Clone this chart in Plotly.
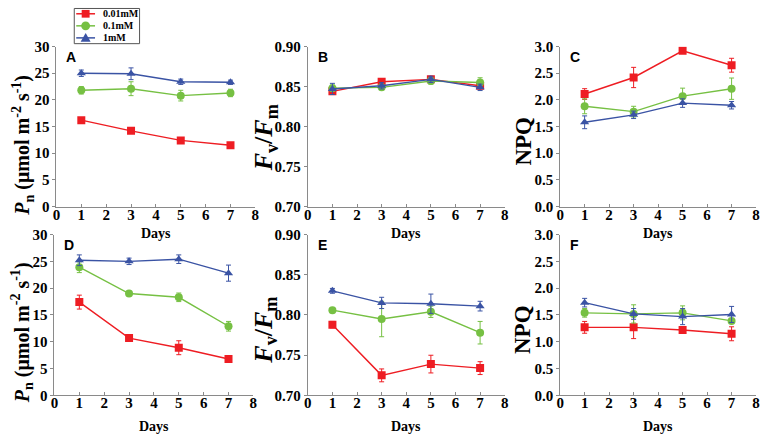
import plotly.graph_objects as go

# sampling days and treatment names
days = [1, 3, 5, 7]
labels = ["0.01mM", "0.1mM", "1mM"]
x_ticks = [0, 1, 2, 3, 4, 5, 6, 7, 8]

# A: Pn, top row
a_red = [16.2, 14.2, 12.4, 11.5]
a_red_sd = [0.3, 0.3, 0.5, 0.4]
a_green = [21.8, 22.1, 20.8, 21.3]
a_green_sd = [0.7, 1.3, 1.0, 0.7]
a_blue = [25.0, 24.9, 23.4, 23.3]
a_blue_sd = [0.6, 1.1, 0.5, 0.4]

# B: Fv/Fm, top row
b_red = [0.844, 0.856, 0.859, 0.851]
b_red_sd = [0.003, 0.004, 0.003, 0.004]
b_green = [0.848, 0.849, 0.857, 0.855]
b_green_sd = [0.004, 0.003, 0.004, 0.006]
b_blue = [0.847, 0.851, 0.859, 0.849]
b_blue_sd = [0.007, 0.004, 0.004, 0.004]

# C: NPQ, top row
c_red = [2.11, 2.42, 2.92, 2.65]
c_red_sd = [0.10, 0.19, 0.05, 0.13]
c_green = [1.88, 1.78, 2.07, 2.21]
c_green_sd = [0.14, 0.10, 0.15, 0.20]
c_blue = [1.58, 1.72, 1.94, 1.90]
c_blue_sd = [0.12, 0.07, 0.08, 0.07]

# D: Pn, bottom row
d_red = [17.4, 10.7, 8.9, 6.8]
d_red_sd = [1.3, 0.5, 1.3, 0.3]
d_green = [23.9, 19.0, 18.3, 12.9]
d_green_sd = [1.0, 0.4, 0.8, 0.9]
d_blue = [25.2, 25.0, 25.4, 22.8]
d_blue_sd = [1.0, 0.6, 0.8, 1.5]

# E: Fv/Fm, bottom row
e_red = [0.788, 0.725, 0.739, 0.734]
e_red_sd = [0.004, 0.008, 0.011, 0.008]
e_green = [0.806, 0.795, 0.804, 0.778]
e_green_sd = [0.003, 0.022, 0.007, 0.014]
e_blue = [0.830, 0.815, 0.814, 0.811]
e_blue_sd = [0.003, 0.007, 0.012, 0.006]

# F: NPQ, bottom row
f_red = [1.27, 1.27, 1.22, 1.15]
f_red_sd = [0.11, 0.21, 0.04, 0.13]
f_green = [1.54, 1.52, 1.54, 1.39]
f_green_sd = [0.08, 0.17, 0.13, 0.03]
f_blue = [1.73, 1.52, 1.47, 1.51]
f_blue_sd = [0.08, 0.10, 0.15, 0.15]

W, H = 767, 443
colors = ["#EE1D23", "#76C043", "#3A53A4"]
symbols = ["square", "circle", "triangle-up"]
serif = "Liberation Serif"
axis_grey = "#8a8a8a"

pn_title = "<b><i>P</i><sub>n</sub> (μmol m<sup>-2</sup> s<sup>-1</sup>)</b>"
fv_title = "<b><i>F</i><sub>v</sub>/<i>F</i><sub>m</sub></b>"
npq_title = "<b>NPQ</b>"


def px(x):
    return x / W


def py(y):
    return 1 - y / H


# pixel boxes of each panel (left, right, top, bottom), y title x, size, shift, Days gap
panels = [
    ("A", [(a_red, a_red_sd), (a_green, a_green_sd), (a_blue, a_blue_sd)],
     (53, 254, 40, 206), [0, 30], 5, None, pn_title, 19, 20, 19, 28),
    ("B", [(b_red, b_red_sd), (b_green, b_green_sd), (b_blue, b_blue_sd)],
     (307, 506, 40, 206), [0.70, 0.90], 0.05, ".2f", fv_title, 264, 26, 12, 28),
    ("C", [(c_red, c_red_sd), (c_green, c_green_sd), (c_blue, c_blue_sd)],
     (562, 760, 40, 206), [0, 3], 0.5, ".1f", npq_title, 524, 23, 15, 28),
    ("D", [(d_red, d_red_sd), (d_green, d_green_sd), (d_blue, d_blue_sd)],
     (51, 252, 235, 402), [0, 30], 5, None, pn_title, 19, 20, 18, 32),
    ("E", [(e_red, e_red_sd), (e_green, e_green_sd), (e_blue, e_blue_sd)],
     (307, 506, 235, 402), [0.70, 0.90], 0.05, ".2f", fv_title, 264, 26, 16, 32),
    ("F", [(f_red, f_red_sd), (f_green, f_green_sd), (f_blue, f_blue_sd)],
     (562, 760, 235, 402), [0, 3], 0.5, ".1f", npq_title, 524, 23, 15, 32),
]

fig = go.Figure()
annotations = []
shapes = []
layout_axes = {}

for i, (letter, series, box, yrange, dtick, fmt, ytitle, ytx, ysize, yshift, dgap) in enumerate(panels):
    n = "" if i == 0 else str(i + 1)
    left, right, top, bottom = box
    for k, (vals, sd) in enumerate(series):
        fig.add_trace(go.Scatter(
            x=days, y=vals,
            error_y=dict(type="data", array=sd, color=colors[k],
                         thickness=1, width=2.5),
            mode="lines+markers",
            line=dict(color=colors[k], width=1.4),
            marker=dict(symbol=symbols[k], size=8, color=colors[k]),
            name=labels[k],
            showlegend=False,
            xaxis="x" + n, yaxis="y" + n,
        ))

    tick_font = dict(family=serif, size=15, color="black", weight="bold")
    layout_axes["xaxis" + n] = dict(
        domain=[px(left), px(right)], anchor="y" + n,
        range=[0, 8], tickvals=x_ticks,
        showline=True, linecolor=axis_grey, linewidth=1,
        ticks="inside", ticklen=3, tickcolor=axis_grey,
        ticklabelstandoff=-6,
        showgrid=False, zeroline=False, tickfont=tick_font,
    )
    layout_axes["yaxis" + n] = dict(
        domain=[py(bottom), py(top)], anchor="x" + n,
        range=yrange, dtick=dtick, tickformat=fmt,
        showline=True, linecolor=axis_grey, linewidth=1,
        ticks="outside", ticklen=3, tickcolor=axis_grey,
        showgrid=False, zeroline=False, tickfont=tick_font,
    )

    mid_y = (top + bottom) / 2 + yshift
    # y axis title
    annotations.append(dict(
        text=ytitle, textangle=-90, showarrow=False,
        x=px(ytx), y=py(mid_y), xref="paper", yref="paper",
        xanchor="center", yanchor="middle",
        font=dict(family=serif, size=ysize, color="black"),
    ))
    # Days label
    annotations.append(dict(
        text="<b>Days</b>", showarrow=False,
        x=px((left + right) / 2), y=py(bottom + dgap),
        xref="paper", yref="paper", xanchor="center", yanchor="middle",
        font=dict(family=serif, size=14, color="black"),
    ))
    # panel letter
    annotations.append(dict(
        text="<b>" + letter + "</b>", showarrow=False,
        x=px(left + 8), y=py(top), xref="paper", yref="paper",
        xanchor="left", yanchor="top",
        font=dict(family="Liberation Sans", size=14, color="black"),
    ))

# legend drawn by hand so the rows can sit as tight as in the original
leg_left, leg_right, leg_top, leg_bottom = 71, 137, 0.5, 37
shapes.append(dict(type="rect", xref="paper", yref="paper",
                   x0=px(leg_left), x1=px(leg_right), y0=py(leg_bottom), y1=py(leg_top),
                   line=dict(color="#555555", width=1), fillcolor="white", layer="above"))
for k, name in enumerate(labels):
    cy = 6 + 12.5 * k
    shapes.append(dict(type="line", xref="paper", yref="paper",
                       x0=px(73), x1=px(92), y0=py(cy), y1=py(cy),
                       line=dict(color=colors[k], width=1.5), layer="above"))
    if symbols[k] == "square":
        shapes.append(dict(type="rect", xref="paper", yref="paper",
                           x0=px(78.5), x1=px(86.5), y0=py(cy + 4), y1=py(cy - 4),
                           line=dict(width=0), fillcolor=colors[k], layer="above"))
    elif symbols[k] == "circle":
        shapes.append(dict(type="circle", xref="paper", yref="paper",
                           x0=px(78), x1=px(87), y0=py(cy + 4.5), y1=py(cy - 4.5),
                           line=dict(width=0), fillcolor=colors[k], layer="above"))
    else:
        path = "M {:.4f} {:.4f} L {:.4f} {:.4f} L {:.4f} {:.4f} Z".format(
            px(77.5), py(cy + 4), px(87.5), py(cy + 4), px(82.5), py(cy - 5))
        shapes.append(dict(type="path", xref="paper", yref="paper", path=path,
                           line=dict(width=0), fillcolor=colors[k], layer="above"))
    annotations.append(dict(
        text="<b>" + name + "</b>", showarrow=False,
        x=px(98), y=py(cy), xref="paper", yref="paper",
        xanchor="left", yanchor="middle",
        font=dict(family=serif, size=10, color="black"),
    ))

fig.update_layout(
    width=W, height=H,
    margin=dict(l=0, r=0, t=0, b=0),
    plot_bgcolor="white", paper_bgcolor="white",
    annotations=annotations,
    shapes=shapes,
    showlegend=False,
    **layout_axes,
)

fig.write_html("out.html", config={"displayModeBar": False},
               post_script="document.body.style.margin = '0';")
